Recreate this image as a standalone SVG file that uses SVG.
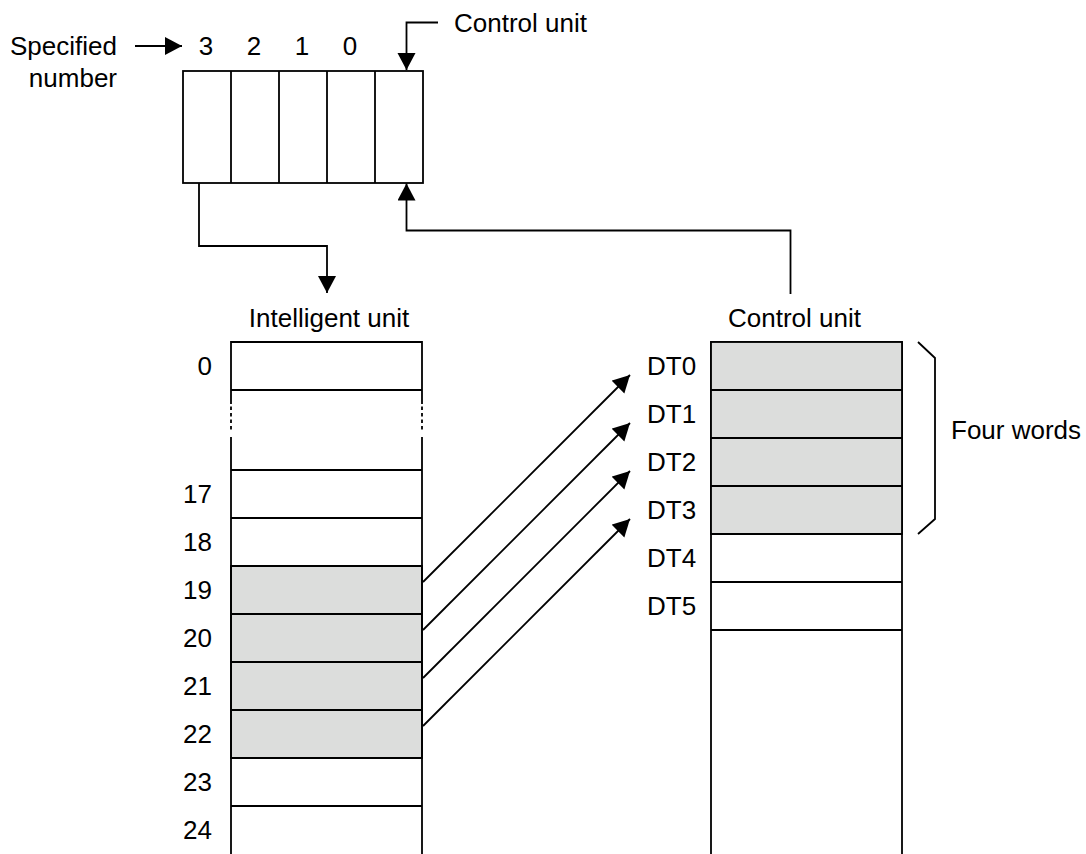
<svg xmlns="http://www.w3.org/2000/svg" width="1086" height="854" viewBox="0 0 1086 854">
  <style>
    text { font-family: "Liberation Sans", Arial, sans-serif; font-size: 26px; fill: #000; }
    .end { text-anchor: end; }
    .mid { text-anchor: middle; }
    .box { fill: #fff; stroke: #000; stroke-width: 1.8; }
    .shade { fill: #dcdddc; stroke: #000; stroke-width: 1.8; }
    .ln { fill: none; stroke: #000; stroke-width: 1.8; }
    .conn { fill: none; stroke: #000; stroke-width: 1.8; marker-end: url(#arr); }
  </style>
  <defs>
    <marker id="arr" markerUnits="userSpaceOnUse" markerWidth="18" markerHeight="19" refX="17" refY="9" orient="auto">
      <path d="M0,0 L17,9 L0,18 z" fill="#000"/>
    </marker>
  </defs>
  <rect width="1086" height="854" fill="#fff"/>

  <g id="specified-label">
    <text class="end" x="117" y="54.5">Specified</text>
    <text class="end" x="117" y="87">number</text>
  </g>

  <g id="slot-numbers">
    <text class="mid" x="206" y="54.5">3</text>
    <text class="mid" x="254" y="54.5">2</text>
    <text class="mid" x="302" y="54.5">1</text>
    <text class="mid" x="350" y="54.5">0</text>
  </g>

  <g id="control-unit-top-label">
    <text x="454" y="32">Control unit</text>
  </g>

  <g id="rack">
    <rect class="box" x="183" y="71" width="240" height="112"/>
    <line class="ln" x1="231" y1="71" x2="231" y2="183"/>
    <line class="ln" x1="279" y1="71" x2="279" y2="183"/>
    <line class="ln" x1="327" y1="71" x2="327" y2="183"/>
    <line class="ln" x1="375" y1="71" x2="375" y2="183"/>
  </g>

  <g id="intelligent-unit">
    <text class="mid" x="329" y="327">Intelligent unit</text>
    <rect x="231" y="342" width="191" height="514" fill="#fff"/>
    <rect class="shade" x="231" y="566" width="191" height="192"/>
    <line class="ln" x1="231" y1="342" x2="422" y2="342"/>
    <line class="ln" x1="231" y1="390" x2="422" y2="390"/>
    <line class="ln" x1="231" y1="470" x2="422" y2="470"/>
    <line class="ln" x1="231" y1="518" x2="422" y2="518"/>
    <line class="ln" x1="231" y1="566" x2="422" y2="566"/>
    <line class="ln" x1="231" y1="614" x2="422" y2="614"/>
    <line class="ln" x1="231" y1="662" x2="422" y2="662"/>
    <line class="ln" x1="231" y1="710" x2="422" y2="710"/>
    <line class="ln" x1="231" y1="758" x2="422" y2="758"/>
    <line class="ln" x1="231" y1="806" x2="422" y2="806"/>
    <path class="ln" d="M231,341.1 V404 M231,437 V856 M422,341.1 V404 M422,437 V856"/>
    <path class="ln" d="M231,406.5 V410 M231,413 V416.5 M231,419.5 V423 M231,426 V429.5 M422,406.5 V410 M422,413 V416.5 M422,419.5 V423 M422,426 V429.5"/>
    <text class="end" x="212" y="375">0</text>
    <text class="end" x="212" y="503">17</text>
    <text class="end" x="212" y="551">18</text>
    <text class="end" x="212" y="599">19</text>
    <text class="end" x="212" y="647">20</text>
    <text class="end" x="212" y="695">21</text>
    <text class="end" x="212" y="743">22</text>
    <text class="end" x="212" y="791">23</text>
    <text class="end" x="212" y="839">24</text>
  </g>

  <g id="control-unit">
    <text class="mid" x="794.5" y="327">Control unit</text>
    <rect x="711" y="342" width="191" height="514" fill="#fff" stroke="#000" stroke-width="1.8"/>
    <rect class="shade" x="711" y="342" width="191" height="192"/>
    <line class="ln" x1="711" y1="390" x2="902" y2="390"/>
    <line class="ln" x1="711" y1="438" x2="902" y2="438"/>
    <line class="ln" x1="711" y1="486" x2="902" y2="486"/>
    <line class="ln" x1="711" y1="534" x2="902" y2="534"/>
    <line class="ln" x1="711" y1="582" x2="902" y2="582"/>
    <line class="ln" x1="711" y1="630" x2="902" y2="630"/>
    <text x="647" y="375">DT0</text>
    <text x="647" y="423">DT1</text>
    <text x="647" y="471">DT2</text>
    <text x="647" y="519">DT3</text>
    <text x="647" y="567">DT4</text>
    <text x="647" y="615">DT5</text>
  </g>

  <g id="four-words">
    <path class="ln" d="M918,342 L935,358 L935,519 L918,534"/>
    <text x="951" y="439">Four words</text>
  </g>

  <g id="connectors">
    <path class="conn" d="M135,46 H182"/>
    <path class="conn" d="M438,22.5 H406.5 V70"/>
    <path class="conn" d="M199,183 V246 H327 V293"/>
    <path class="conn" d="M790.5,294 V230.5 H406.5 V183.5"/>
    <path class="conn" d="M423,582 L630,375"/>
    <path class="conn" d="M423,630 L630,423"/>
    <path class="conn" d="M423,678 L630,471"/>
    <path class="conn" d="M423,726 L630,519"/>
  </g>
</svg>
